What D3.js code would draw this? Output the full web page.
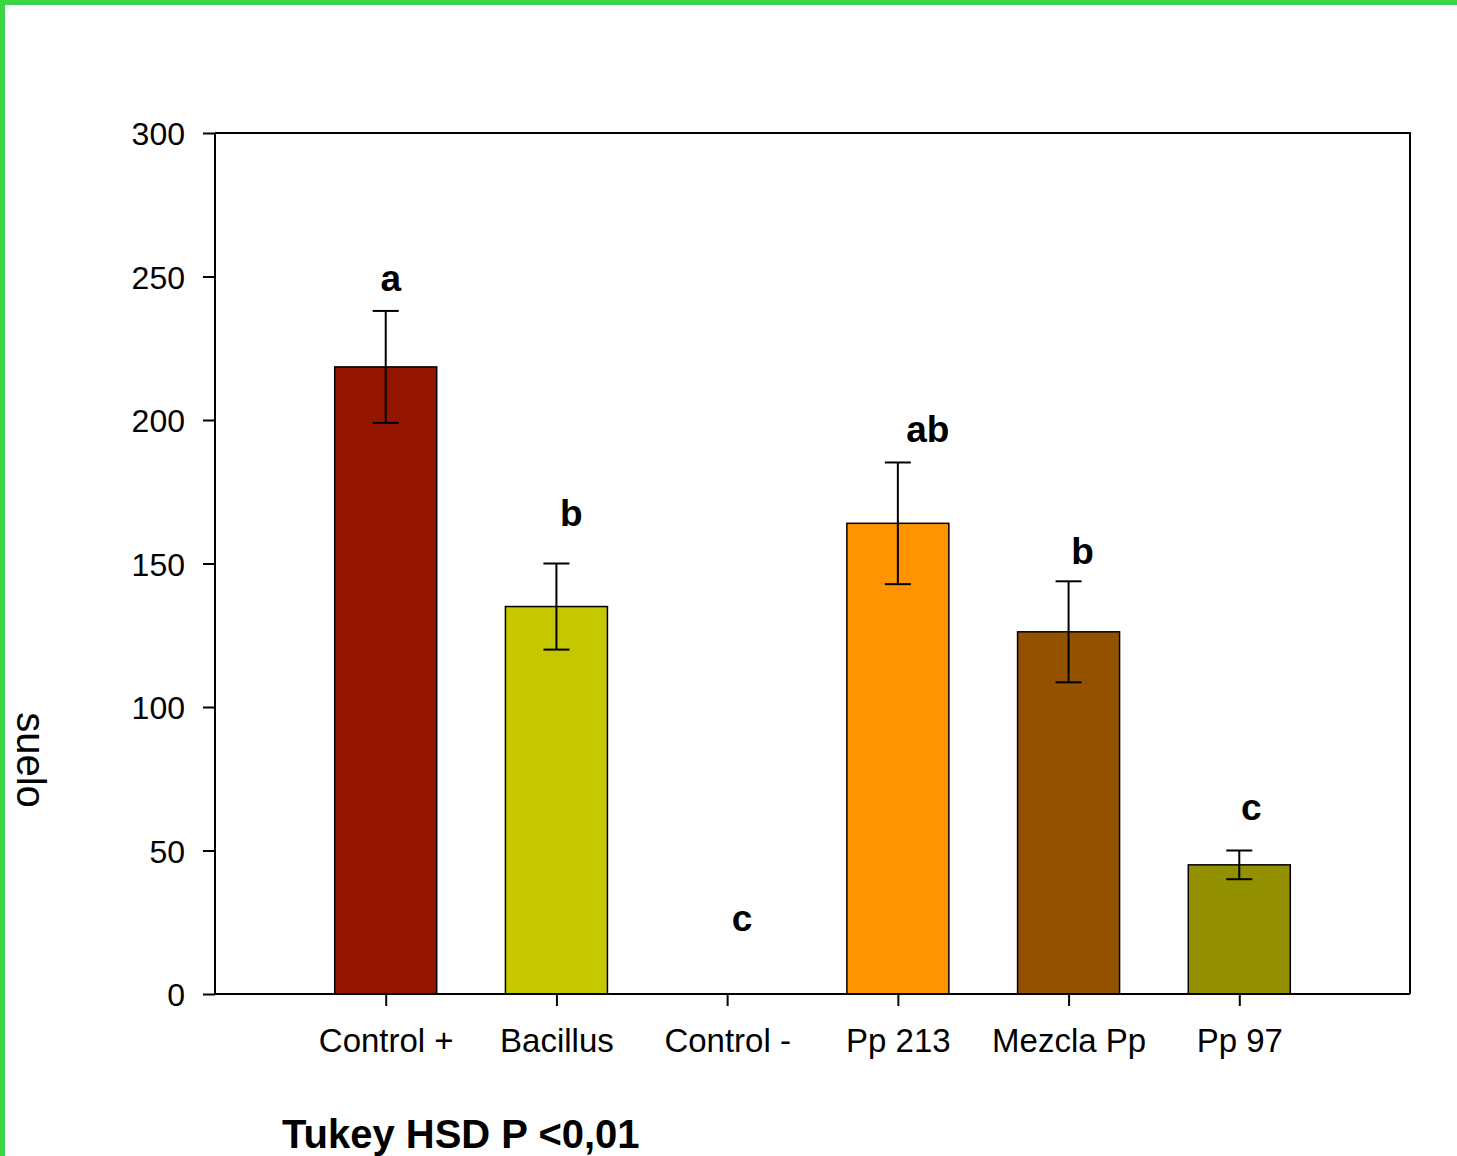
<!DOCTYPE html>
<meta charset="utf-8">
<body style="margin:0">
<script src="https://d3js.org/d3.v7.min.js"></script>
<script>
var categories = ["Control +", "Bacillus", "Control -", "Pp 213", "Mezcla Pp", "Pp 97"];
var means = [218.5, 135, 0, 164, 126.2, 45];
var errors = [19.5, 15, 0, 21.2, 17.6, 5];
var letters = ["a", "b", "c", "ab", "b", "c"];
var letterAt = [245, 163, 22, 192.5, 150, 60.5];
var colors = ["#931500", "#c5c800", "#ffffff", "#ff9400", "#935200", "#939000"];
var yTicks = [0, 50, 100, 150, 200, 250, 300];

var W = 1457, H = 1156;
var mLeft = 215, mRight = 1410, mTop = 133, mBottom = 994;
var font = "Arial, 'Liberation Sans', sans-serif";

var svg = d3.select("body").append("svg").attr("width", W).attr("height", H)
  .style("display", "block").style("font-family", font);

svg.append("rect").attr("width", W).attr("height", H).attr("fill", "#fff");
// green frame of the picture
svg.append("rect").attr("x", 0).attr("y", 0).attr("width", W).attr("height", 5).attr("fill", "#3cd446");
svg.append("rect").attr("x", 0).attr("y", 0).attr("width", 5).attr("height", H).attr("fill", "#3cd446");

var x = d3.scalePoint().domain(categories).range([mLeft, mRight]).padding(1);
var y = d3.scaleLinear().domain([0, 300]).range([mBottom, mTop]);
var bw = 102;

// bars
svg.selectAll("rect.bar").data(categories).enter().append("rect")
  .attr("class", "bar")
  .attr("x", function(d) { return x(d) - bw / 2; })
  .attr("y", function(d, i) { return y(means[i]); })
  .attr("width", bw)
  .attr("height", function(d, i) { return y(0) - y(means[i]); })
  .attr("fill", function(d, i) { return colors[i]; })
  .attr("stroke", function(d, i) { return means[i] > 0 ? "#000" : "none"; })
  .attr("stroke-width", 1.5);

// error bars
var eg = svg.append("g").attr("stroke", "#000").attr("stroke-width", 2);
categories.forEach(function(c, i) {
  if (errors[i] <= 0) return;
  var cx = x(c), hi = y(means[i] + errors[i]), lo = y(means[i] - errors[i]);
  eg.append("line").attr("x1", cx).attr("x2", cx).attr("y1", hi).attr("y2", lo);
  eg.append("line").attr("x1", cx - 13).attr("x2", cx + 13).attr("y1", hi).attr("y2", hi);
  eg.append("line").attr("x1", cx - 13).attr("x2", cx + 13).attr("y1", lo).attr("y2", lo);
});

// significance letters
var letterDx = [5, 15, 15, 30, 14, 12];
svg.selectAll("text.letter").data(letters).enter().append("text")
  .attr("class", "letter")
  .attr("x", function(d, i) { return x(categories[i]) + letterDx[i]; })
  .attr("y", function(d, i) { return y(letterAt[i]); })
  .attr("text-anchor", "middle")
  .attr("font-size", 37).attr("font-weight", "bold")
  .text(function(d) { return d; });

// frame
svg.append("path")
  .attr("d", "M" + mLeft + "," + mTop + "H" + mRight + "V" + mBottom)
  .attr("fill", "none").attr("stroke", "#000").attr("stroke-width", 2);

// axes
var yAxis = svg.append("g").attr("transform", "translate(" + mLeft + ",0)")
  .call(d3.axisLeft(y).tickValues(yTicks).tickSize(12).tickPadding(18));
var xAxis = svg.append("g").attr("transform", "translate(0," + mBottom + ")")
  .call(d3.axisBottom(x).tickSize(12).tickPadding(23));
[yAxis, xAxis].forEach(function(a) {
  a.select(".domain").attr("stroke-width", 2).attr("stroke", "#000");
  a.selectAll(".tick line").attr("stroke-width", 2).attr("stroke", "#000");
  a.selectAll(".tick text").attr("fill", "#000").style("font-family", font);
});
yAxis.selectAll(".tick text").attr("font-size", 32).attr("dy", "0.36em");
xAxis.selectAll(".tick text").attr("font-size", 33).attr("dy", "0.71em");
yAxis.select(".domain").attr("d", "M0," + mBottom + "V" + mTop);
xAxis.select(".domain").attr("d", "M" + mLeft + ",0H" + mRight);

// y title
svg.append("text")
  .attr("transform", "translate(17,760) rotate(90)")
  .attr("text-anchor", "middle")
  .attr("font-size", 40)
  .text("suelo");

svg.append("text")
  .attr("x", 282).attr("y", 1148)
  .attr("font-size", 40).attr("font-weight", "bold")
  .text("Tukey HSD P <0,01");
</script>
</body>
</html>
